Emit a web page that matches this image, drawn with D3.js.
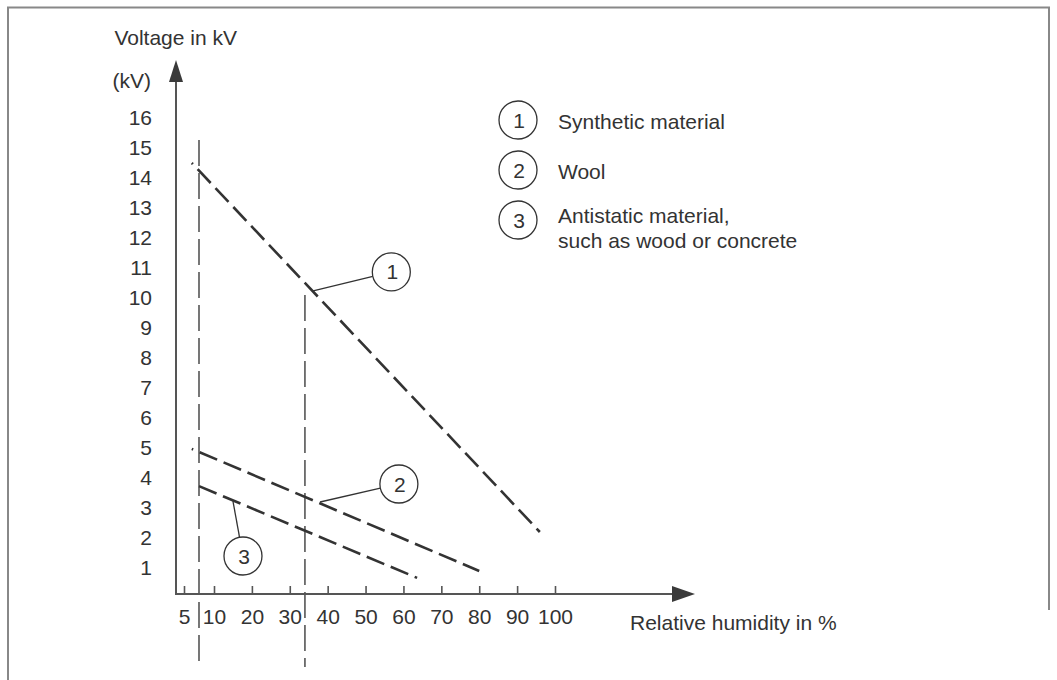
<!DOCTYPE html>
<html>
<head>
<meta charset="utf-8">
<script src="https://cdn.jsdelivr.net/npm/d3@7"></script>
<style>
  html, body { margin: 0; padding: 0; background: #fff; }
  svg { display: block; }
  text { font-family: "Liberation Sans", Arial, sans-serif; fill: #333; }
</style>
</head>
<body>
<svg id="chart" width="1057" height="680"></svg>
<script>
// Humidity axis tick values (%), voltage axis tick values (kV)
const humidityTicks = [5, 10, 20, 30, 40, 50, 60, 70, 80, 90, 100];
const voltageTicks = [1, 2, 3, 4, 5, 6, 7, 8, 9, 10, 11, 12, 13, 14, 15, 16];

// Series: relative humidity (%) vs. voltage (kV), start and end of each line
const seriesIds = [1, 2, 3];
const seriesHumidity = [[6.3, 96], [6.3, 80], [7.5, 63.6]];
const seriesVoltage = [[14.5, 2.2], [4.97, 0.9], [3.73, 0.67]];
const seriesLeadDot = [true, true, false];

// Vertical reference lines at fixed humidity
const refHumidity = [7.5, 34];
const refTop = [15.27, 10.1];
const refBottom = [-2.25, -2.3];

// Numbered callouts: point on the line and bubble position
const calloutAnchorH = [35.9, 38.0, 15.0];
const calloutAnchorKV = [10.23, 3.2, 3.23];
const calloutBubbleH = [56.8, 58.8, 17.65];
const calloutBubbleKV = [10.87, 3.8, 1.4];

// Legend
const legendIds = [1, 2, 3];
const legendLabels = [["Synthetic material"], ["Wool"], ["Antistatic material,", "such as wood or concrete"]];

const yTitle = "Voltage in kV";
const yUnit = "(kV)";
const xTitle = "Relative humidity in %";

const svg = d3.select("#chart");
const FS = 21;
const ink = "#333";
const axisInk = "#555";

// Frame
svg.append("path")
  .attr("d", "M8,680 L8,7.5 L1049,7.5 L1049,610")
  .attr("fill", "none").attr("stroke", "#888").attr("stroke-width", 2);

// Scales: the 5 % tick sits closer to the origin than the linear 10..100 run
const x = d3.scaleLinear().domain([5, 10, 100]).range([184, 214, 555]);
const y = d3.scaleLinear().domain([0, 16]).range([598, 118]);

const origin = { x: 176, y: 594 };

// Axis lines with arrowheads
svg.append("line").attr("x1", origin.x).attr("y1", origin.y).attr("x2", origin.x).attr("y2", 78)
  .attr("stroke", axisInk).attr("stroke-width", 2);
svg.append("path").attr("d", `M${origin.x},60 L${origin.x - 7},82 L${origin.x + 7},82 Z`).attr("fill", "#3a3a3a");
svg.append("line").attr("x1", origin.x - 1).attr("y1", origin.y).attr("x2", 676).attr("y2", origin.y)
  .attr("stroke", axisInk).attr("stroke-width", 2);
svg.append("path").attr("d", `M695,${origin.y} L672,${origin.y - 8} L672,${origin.y + 8} Z`).attr("fill", "#3a3a3a");

// X axis: ticks pointing up, labels below
const xAxis = svg.append("g").attr("transform", `translate(0,${origin.y})`)
  .call(d3.axisBottom(x).tickValues(humidityTicks).tickFormat(d3.format("d"))
    .tickSizeInner(-8).tickSizeOuter(0).tickPadding(15.5));
xAxis.select(".domain").remove();
xAxis.selectAll(".tick line").attr("stroke", axisInk).attr("stroke-width", 1.6);
xAxis.selectAll(".tick text").attr("font-size", FS).attr("font-family", null).attr("fill", ink);

// Y axis: labels only
const yAxis = svg.append("g").attr("transform", `translate(${origin.x},0)`)
  .call(d3.axisLeft(y).tickValues(voltageTicks).tickFormat(d3.format("d"))
    .tickSize(0).tickPadding(24));
yAxis.select(".domain").remove();
yAxis.selectAll(".tick text").attr("font-size", FS).attr("font-family", null).attr("fill", ink);

// Axis titles
svg.append("text").attr("x", 237).attr("y", 44.5).attr("text-anchor", "end").attr("font-size", FS).text(yTitle);
svg.append("text").attr("x", 151).attr("y", 87.5).attr("text-anchor", "end").attr("font-size", FS).text(yUnit);
svg.append("text").attr("x", 630).attr("y", 629.5).attr("font-size", FS).text(xTitle);

// Vertical reference lines
refHumidity.forEach((h, i) => {
  svg.append("line")
    .attr("x1", x(h)).attr("x2", x(h))
    .attr("y1", y(refTop[i])).attr("y2", y(refBottom[i]))
    .attr("stroke", axisInk).attr("stroke-width", 1.6)
    .attr("stroke-dasharray", "26 7");
});

// Dashed series lines
const line = d3.line().x(d => x(d[0])).y(d => y(d[1]));
seriesIds.forEach((id, i) => {
  const pts = seriesHumidity[i].map((h, j) => [h, seriesVoltage[i][j]]);
  svg.append("path")
    .attr("d", line(pts))
    .attr("fill", "none").attr("stroke", ink).attr("stroke-width", 2.6)
    .attr("stroke-dasharray", "19 7")
    .attr("stroke-dashoffset", seriesLeadDot[i] ? 17.5 : 0);
});

// Callouts
const R = 19;
function bubble(cx, cy, label) {
  svg.append("circle").attr("cx", cx).attr("cy", cy).attr("r", R)
    .attr("fill", "#fff").attr("stroke", ink).attr("stroke-width", 1.3);
  svg.append("text").attr("x", cx + 1).attr("y", cy + 7.5).attr("text-anchor", "middle")
    .attr("font-size", FS).text(label);
}
seriesIds.forEach((id, i) => {
  const ax = x(calloutAnchorH[i]), ay = y(calloutAnchorKV[i]);
  const bx = x(calloutBubbleH[i]), by = y(calloutBubbleKV[i]);
  const len = Math.hypot(bx - ax, by - ay);
  svg.append("line")
    .attr("x1", ax).attr("y1", ay)
    .attr("x2", bx - (bx - ax) * R / len).attr("y2", by - (by - ay) * R / len)
    .attr("stroke", ink).attr("stroke-width", 1.3);
  bubble(bx, by, id);
});

// Legend
const legendX = 518, legendY0 = 120, legendStep = 50;
legendIds.forEach((id, i) => {
  const cy = legendY0 + i * legendStep;
  bubble(legendX, cy, id);
  const t = svg.append("text").attr("x", 558).attr("y", cy + 9).attr("font-size", FS);
  legendLabels[i].forEach((s, k) => {
    t.append("tspan").attr("x", 558).attr("dy", k === 0 ? (legendLabels[i].length > 1 ? -6 : 0) : 25).text(s);
  });
});
</script>
</body>
</html>
